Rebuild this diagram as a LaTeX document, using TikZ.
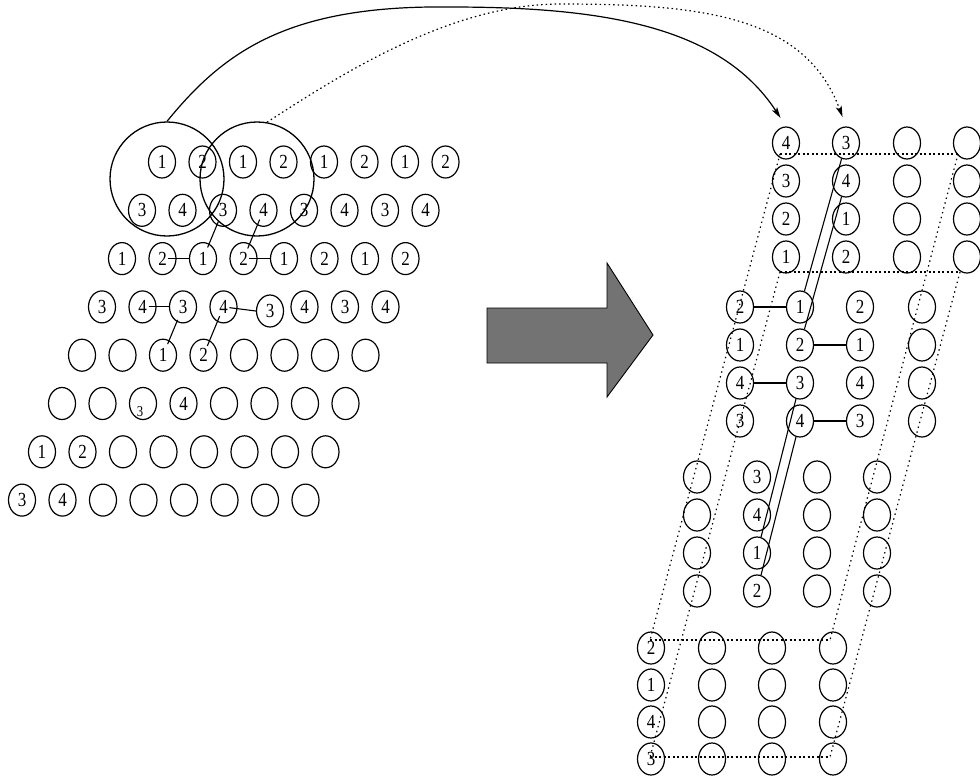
\documentclass[tikz,border=0pt]{standalone}
\usepackage{fontspec}
\setmainfont{Liberation Serif}
\newfontfamily\digits{Liberation Serif}[FakeStretch=0.85]
\usetikzlibrary{shapes.geometric,arrows.meta,calc}
% a cell label of 0 stays blank
\newcommand\dig[1]{\ifnum#1>0 #1\fi}

\begin{document}
\begin{tikzpicture}[x=1pt,y=-1pt,
  cell/.style={ellipse,draw,line width=1.2pt,minimum width=27pt,minimum height=32pt,
    inner sep=0pt,font=\digits\fontsize{20}{20}\selectfont},
  ring/.style={circle,draw,line width=1.3pt,minimum size=114pt,inner sep=0pt},
  link/.style={line width=1.1pt},
  guide/.style={line width=1.2pt,dash pattern=on 2pt off 2.5pt},
  slant/.style={line width=1.2pt,dash pattern=on 1.4pt off 3.6pt},
  transfer/.style={line width=1.2pt,shorten >=10pt,-{Stealth[length=11pt,width=6pt,inset=2.5pt]}},
  bigarrow/.style={fill=black!55,draw=black,line width=0.9pt},
]
\useasboundingbox (0,0) rectangle (980,777);

% ---------------- left lattice ----------------
\foreach \c/\t in {1/1,2/2,3/1,4/2,5/1,6/2,7/1,8/2}
  \node[cell] (L1\c) at ({162+40.5*(\c-1)},162) {\dig{\t}};
\foreach \c/\t in {1/3,2/4,3/3,4/4,5/3,6/4,7/3,8/4}
  \node[cell] (L2\c) at ({142+40.5*(\c-1)},210.3) {\dig{\t}};
\foreach \c/\t in {1/1,2/2,3/1,4/2,5/1,6/2,7/1,8/2}
  \node[cell] (L3\c) at ({122+40.5*(\c-1)},258.6) {\dig{\t}};
\foreach \c/\t in {1/3,2/4,3/3,4/4,6/4,7/3,8/4}
  \node[cell] (L4\c) at ({102+40.5*(\c-1)},306.9) {\dig{\t}};
\node[cell] (L45) at (270,311) {3};
\foreach \c/\t in {1/0,2/0,3/1,4/2,5/0,6/0,7/0,8/0}
  \node[cell] (L5\c) at ({82+40.5*(\c-1)},355.2) {\dig{\t}};
\foreach \c/\t in {1/0,2/0,3/0,4/4,5/0,6/0,7/0,8/0}
  \node[cell] (L6\c) at ({62+40.5*(\c-1)},403.5) {\dig{\t}};
\node[font=\digits\fontsize{15}{15}\selectfont,inner sep=0pt] (L63t) at ($(L63)+(-3,8)$) {3};
\foreach \c/\t in {1/1,2/2,3/0,4/0,5/0,6/0,7/0,8/0}
  \node[cell] (L7\c) at ({42+40.5*(\c-1)},451.8) {\dig{\t}};
\foreach \c/\t in {1/3,2/4,3/0,4/0,5/0,6/0,7/0,8/0}
  \node[cell] (L8\c) at ({22+40.5*(\c-1)},500.1) {\dig{\t}};

% two selection rings
\node[ring] (bigA) at (167,179) {};
\node[ring] (bigB) at (257,179) {};

% links inside the left lattice
\draw[link,shorten <=12pt,shorten >=12pt] (L23.center) -- (L33.center);
\draw[link,shorten <=10pt,shorten >=11pt] (L24.center) -- (L34.center);
\draw[link,shorten <=5pt] (L32.center) -- (L33.west);
\draw[link,shorten <=5pt] (L34.center) -- (L35.west);
\draw[link,shorten <=6pt] (L42.center) -- (L43.west);
\draw[link,shorten <=6pt] (L44.center) -- (L45.west);
\draw[link,shorten <=14pt,shorten >=12pt] (L43.center) -- (L53.center);
\draw[link,shorten <=10pt,shorten >=10pt] (L44.center) -- (L54.center);

% ---------------- block arrow ----------------
\path[bigarrow] (487,308) -- (607,308) -- (607,263) -- (653,335) -- (607,397)
  -- (607,363) -- (487,363) -- cycle;

% ---------------- right column of blocks ----------------
% block 1
\foreach \r/\a/\b in {1/4/3,2/3/4,3/2/1,4/1/2}{
  \node[cell] (R1\r1) at (786,{143+38*(\r-1)}) {\a};
  \node[cell] (R1\r2) at (846,{143+38*(\r-1)}) {\b};
  \node[cell] (R1\r3) at (907,{143+38*(\r-1)}) {};
  \node[cell] (R1\r4) at (967,{143+38*(\r-1)}) {};
}
% block 2
\foreach \r/\a/\b/\d in {1/2/1/2,2/1/2/1,3/4/3/4,4/3/4/3}{
  \node[cell] (R2\r1) at (740,{307+38*(\r-1)}) {\a};
  \node[cell] (R2\r2) at (800,{307+38*(\r-1)}) {\b};
  \node[cell] (R2\r3) at (860,{307+38*(\r-1)}) {\d};
  \node[cell] (R2\r4) at (922,{307+38*(\r-1)}) {};
}
% block 3
\foreach \r/\b in {1/3,2/4,3/1,4/2}{
  \node[cell] (R3\r1) at (697,{477+38*(\r-1)}) {};
  \node[cell] (R3\r2) at (757,{477+38*(\r-1)}) {\b};
  \node[cell] (R3\r3) at (817,{477+38*(\r-1)}) {};
  \node[cell] (R3\r4) at (877,{477+38*(\r-1)}) {};
}
% block 4
\foreach \r/\a in {1/2,2/1,3/4,4/3}{
  \node[cell] (R4\r1) at (651,{648+37*(\r-1)}) {\a};
  \node[cell] (R4\r2) at (712,{648+37*(\r-1)}) {};
  \node[cell] (R4\r3) at (772,{648+37*(\r-1)}) {};
  \node[cell] (R4\r4) at (833,{648+37*(\r-1)}) {};
}

% outline of the slanted slab
\coordinate (tl) at (780,154);
\coordinate (tr) at (958,154);
\coordinate (ml) at (780,272);
\coordinate (mr) at (960,272);
\coordinate (bl) at (650,640);
\coordinate (br) at (830,640);
\coordinate (ll) at (650,757);
\coordinate (lr) at (830,757);
\draw[guide] (tl) -- (tr);
\draw[guide] (ml) -- (mr);
\draw[guide] (bl) -- (br);
\draw[guide] (ll) -- (lr);
\draw[slant] (tl) -- (bl);
\draw[slant] (ml) -- (ll);
\draw[slant] (tr) -- (br);
\draw[slant] (mr) -- (lr);

% links inside the slab
\draw[link] (R112) -- (R212);
\draw[link] (R122) -- (R222);
\draw[link] (R211) -- (R212);
\draw[link] (R222) -- (R223);
\draw[link] (R231) -- (R232);
\draw[link] (R242) -- (R243);
\draw[link] (R232) -- (R332);
\draw[link] (R242) -- (R342);

% ---------------- transfer arrows ----------------
\draw[transfer] (bigA.north) .. controls (225,50) and (290,5) .. (450,7)
  .. controls (600,7) and (720,25) .. (R111.north);
\draw[transfer,dash pattern=on 1.5pt off 3pt] (bigB.80) .. controls (340,75) and (450,4) .. (560,4)
  .. controls (700,4) and (805,15) .. (R112.north);
\end{tikzpicture}
\end{document}
